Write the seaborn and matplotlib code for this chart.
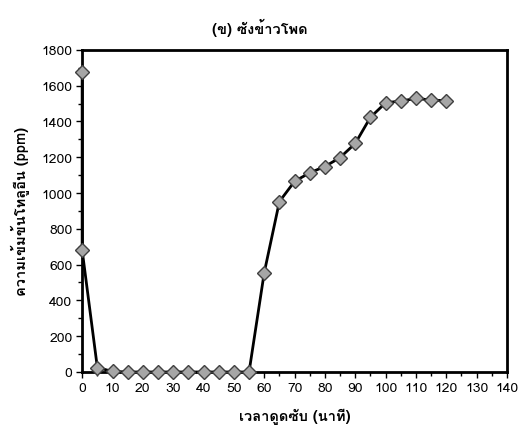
import matplotlib
matplotlib.use("Agg")
import matplotlib.pyplot as plt
from matplotlib import font_manager
from matplotlib.ft2font import FT2Font
import seaborn as sns
import pandas as pd
from matplotlib.ticker import MultipleLocator

time_min = [0, 0, 5, 10, 15, 20, 25, 30, 35, 40, 45, 50, 55, 60, 65, 70, 75, 80, 85, 90, 95, 100, 105, 110, 115, 120]
toluene_ppm = [1675, 680, 25, 3, 0, 0, 0, 0, 0, 0, 0, 0, 0, 555, 952, 1065, 1113, 1148, 1198, 1277, 1423, 1504, 1514, 1528, 1520, 1515]

title = "(ข) ซังข้าวโพด"
xlabel = "เวลาดูดซับ (นาที)"
ylabel = "ความเข้มข้นโทลูอีน (ppm)"

# find an installed font with Thai glyphs
thai_family = None
seen = set()
for f in font_manager.fontManager.ttflist:
    if f.fname in seen:
        continue
    seen.add(f.fname)
    try:
        cm = FT2Font(f.fname).get_charmap()
        if 0x0E01 in cm and 0x0E35 in cm:
            thai_family = f.name
            break
    except Exception:
        pass

sns.set_style("white")
fams = ([thai_family] if thai_family else []) + ["DejaVu Sans"]
plt.rcParams["font.family"] = fams
plt.rcParams["text.color"] = "black"
plt.rcParams["axes.labelcolor"] = "black"
plt.rcParams["xtick.color"] = "black"
plt.rcParams["ytick.color"] = "black"

df = pd.DataFrame({"t": time_min, "c": toluene_ppm})

fig = plt.figure(figsize=(5.2, 4.27), dpi=100)
ax = fig.add_axes([0.158, 0.1265, 0.817, 0.7545])
sns.lineplot(data=df, x="t", y="c", sort=False, estimator=None, ax=ax,
             color="black", linewidth=2.0, marker="D", markersize=7.5,
             markerfacecolor="#a6a6a6", markeredgecolor="#404040", markeredgewidth=1.0)
for ln in ax.lines:
    ln.set_clip_on(False)
    ln.set_zorder(5)

ax.set_xlim(0, 140)
ax.set_ylim(0, 1800)
ax.xaxis.set_major_locator(MultipleLocator(10))
ax.xaxis.set_minor_locator(MultipleLocator(5))
ax.yaxis.set_major_locator(MultipleLocator(200))
ax.yaxis.set_minor_locator(MultipleLocator(100))
ax.tick_params(axis="both", which="major", direction="out", length=4, width=1, labelsize=10, color="black", labelcolor="black", pad=3)
ax.tick_params(axis="both", which="minor", direction="out", length=3, width=1, color="black")
ax.tick_params(axis="x", bottom=True, which="both")
ax.tick_params(axis="y", left=True, which="both")
for s in ax.spines.values():
    s.set_color("black")
    s.set_linewidth(2)

ax.set_xlabel(xlabel, fontsize=10.5, fontweight="bold", labelpad=10, color="black")
ax.set_ylabel(ylabel, fontsize=10.5, fontweight="bold", labelpad=8, color="black")
fig.suptitle(title, fontsize=10.5, fontweight="bold", y=0.955, color="black")

fig.savefig("out.png", dpi=100)
